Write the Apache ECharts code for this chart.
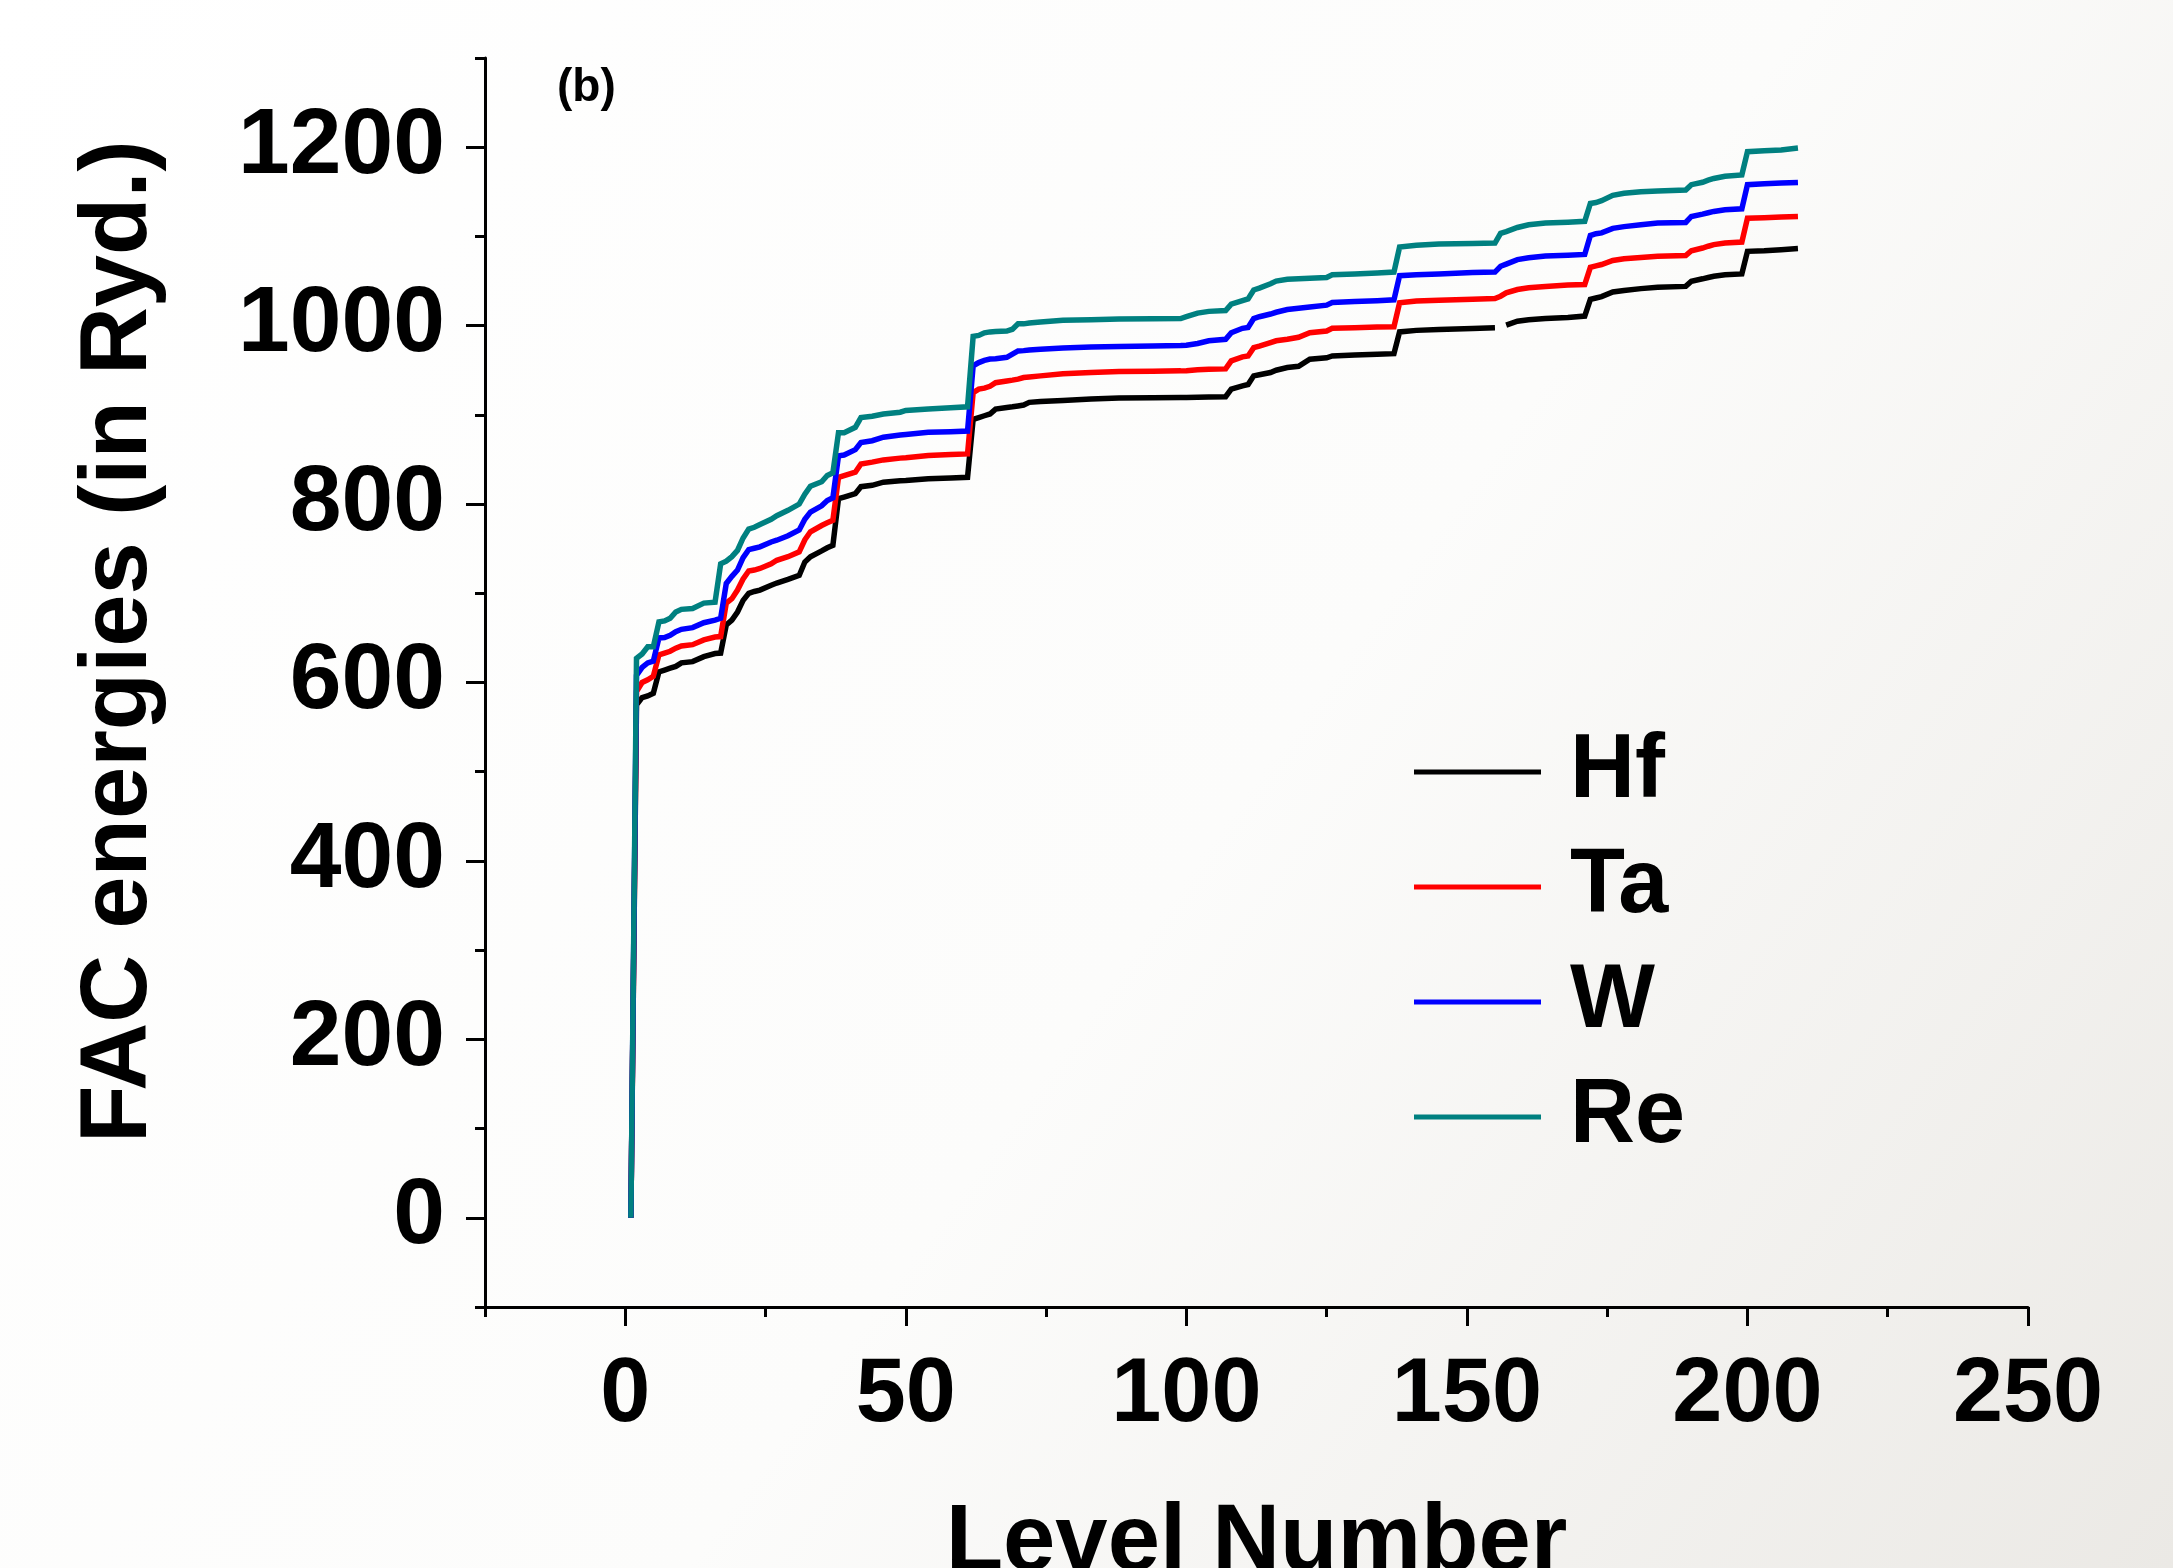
<!DOCTYPE html>
<html>
<head>
<meta charset="utf-8">
<script src="https://cdn.jsdelivr.net/npm/echarts@6/dist/echarts.min.js"></script>
<style>
  html, body { margin: 0; padding: 0; width: 2173px; height: 1568px; overflow: hidden; background: #ffffff; }
  #chart { width: 2173px; height: 1568px; }
</style>
</head>
<body>
<div id="chart"></div>
<script>
// ---- data ----
const levels = [1,2,3,4,5,6,7,8,9,10,12,14,16,17,18,19,20,21,22,23,24,26,27,29,31,32,33,35,36,37,38,39,41,42,44,46,49,50,54,58,61,62,63,64,65,66,68,69,70,71,72,74,78,83,88,94,99,100,102,104,107,108,110,111,112,113,115,116,118,120,122,125,126,130,134,137,138,141,145,151,155,156,157,159,161,164,168,171,172,173,174,176,178,181,184,189,190,192,193,194,196,199,200,203,206,209];

const hfEnergy = [0,575,583,585,588,612,614,616,618,622,
  623.4,629,632.5,633,664.5,670,679,692,700,702,
  703.6,709,711.5,715.5,720,735,741,747.5,751,753.8,
  806,807.8,811.6,819.5,821,824.5,826.2,826.4,828.3,829.3,
  830,895,897,899,901,906.5,908.3,909,910,911,
  914,915,916,917.7,918.8,919.3,919.5,919.5,919.8,920,
  920.3,928.8,932.5,934,943.7,945,947.5,950,953,954.5,
  962.4,964,966,967,968,968.6,993,994.7,995.8,996.8,
  997.6,null,1000.6,1005,1006.7,1008,1009.2,1010.7,1029.4,1031,
  1032.5,1037.8,1039.5,1041.5,1043,1044,1049.8,1052.5,1054,1055.4,
  1057,1058,1083.3,1084,1085.2,1086.4];

const taEnergy = [0,590,600,603,607,631,633,635,638.5,641,
  642.4,647.8,651,651.5,689,694,703.6,716,725,726,
  727.8,733,737,741,746.4,760,769,776,779,781.8,
  830,832,835.7,845,847,849.5,851.5,851.8,854.4,855.6,
  856.2,925,928.8,930,932,936,938,938.9,940,941.8,
  942.5,943.7,946,947.4,948.5,949,949.3,949.5,950.5,951,
  951.5,960.5,965,966,975.3,977,981,983,984.7,987,
  992,994,997,997.7,998.4,998.8,1025.6,1027.5,1028.5,1029.7,
  1030.5,1033,1036.8,1040.5,1042.5,1044,1045.5,1046,1065.4,1067,
  1068.5,1073,1075,1076.5,1077.7,1078.5,1084,1087,1089,1090.8,
  1092.6,1093.7,1120.5,1121,1121.7,1122.4];

const wEnergy = [0,608,617,622,624,650,650.5,653,657,659.6,
  661.5,667,670,672,711,719,726,740,749,750.5,
  752,757.5,759.5,764.5,771,783,791,798,804,807,
  854,855,861,869,871,875,877.5,878,880.5,881.2,
  881.8,955,958.6,961,962.5,963,964.5,968,971.6,972,
  972.8,973.6,975,976,976.7,977.2,977.7,978,980,983,
  984.7,992,997,998,1008,1010,1013,1015,1018,1019.5,
  1021,1023,1026,1027,1028,1029,1056,1057,1058,1059.5,
  1060,1066.5,1069,1074,1076,1078,1079,1079.8,1101,1103,
  1104,1109,1111,1113,1115,1115.7,1122.4,1125,1126.5,1128,
  1130,1131,1158,1159,1159.8,1160.5];

const reEnergy = [0,627,632,640,640,668,669,672,679,682,
  683,689,690,733,736,741,748,762,772,774,
  777,783,787,793,800,811,820,825,832,835,
  880,880,886,897,898.5,901,903,905,906.5,908,
  909,988,989,992,993,993.5,994,996,1002,1002,
  1003,1004,1006,1006.6,1007.4,1007.7,1008,1010,1014,1016,
  1017,1024,1028,1030,1040,1042,1047,1050,1052,1052.5,
  1053,1054,1057,1058,1059,1060,1088,1090,1091.5,1092,
  1092.6,1103.5,1105.5,1110,1113,1115,1116,1117,1137,1138,
  1140,1146,1148.4,1150,1151,1152,1158,1160.7,1163,1165,
  1167.5,1169,1195,1196,1197,1199];

const seriesNames = ['Hf', 'Ta', 'W', 'Re'];
const xMajorTicks = [0, 50, 100, 150, 200, 250];
const xMinorTicks = [-25, 25, 75, 125, 175, 225];
const yMajorTicks = [0, 200, 400, 600, 800, 1000, 1200];
const yMinorTicks = [-100, 100, 300, 500, 700, 900, 1100, 1300];

// ---- chart ----
const colors = ['#000000', '#ff0000', '#0000ff', '#008080'];
const allEnergy = [hfEnergy, taEnergy, wEnergy, reEnergy];
const FONT = '"Liberation Sans", Arial, sans-serif';

function pairs(arr) {
  return levels.map((l, i) => [l, arr[i] === null ? '-' : arr[i]]);
}
const plain = v => String(v);

const chart = echarts.init(document.getElementById('chart'), null, { renderer: 'canvas' });

const axisLine = { show: true, onZero: false, lineStyle: { color: '#000', width: 3 } };

chart.setOption({
  animation: false,
  backgroundColor: {
    type: 'linear', x: 0, y: 0, x2: 1, y2: 1,
    colorStops: [
      { offset: 0, color: '#ffffff' },
      { offset: 0.55, color: '#fcfcfb' },
      { offset: 1, color: '#ebe9e5' }
    ]
  },
  title: {
    text: '(b)',
    left: 552, top: 60,
    textStyle: { fontFamily: FONT, fontWeight: 'bold', fontSize: 46, color: '#000' }
  },
  grid: { left: 485, right: 145, top: 58, bottom: 261, containLabel: false, outerBoundsMode: 'none' },
  legend: {
    orient: 'vertical',
    left: 1414, top: 727,
    icon: 'rect',
    itemWidth: 127, itemHeight: 5,
    itemGap: 25,
    padding: 0,
    data: seriesNames,
    textStyle: { fontFamily: FONT, fontWeight: 'bold', fontSize: 90, lineHeight: 90, color: '#000', padding: [0, 0, 0, 24] }
  },
  xAxis: [
    {
      type: 'value', min: -25, max: 250, interval: 25,
      position: 'bottom',
      axisLine: axisLine,
      splitLine: { show: false },
      axisTick: { show: true, inside: false, length: 19, lineStyle: { width: 3, color: '#000' }, customValues: xMajorTicks },
      axisLabel: { show: true, margin: 44, customValues: xMajorTicks, formatter: plain, fontFamily: FONT, fontWeight: 'bold', fontSize: 90, color: '#000' },
      name: 'Level Number', nameLocation: 'middle', nameGap: 190,
      nameTextStyle: { fontFamily: FONT, fontWeight: 'bold', fontSize: 94, color: '#000' }
    },
    {
      type: 'value', min: -25, max: 250, interval: 25,
      position: 'bottom',
      axisLine: { show: false, onZero: false },
      splitLine: { show: false },
      axisTick: { show: true, inside: false, length: 10, lineStyle: { width: 3, color: '#000' }, customValues: xMinorTicks },
      axisLabel: { show: false }
    }
  ],
  yAxis: [
    {
      type: 'value', min: -100, max: 1300, interval: 100,
      position: 'left',
      axisLine: axisLine,
      splitLine: { show: false },
      axisTick: { show: true, inside: false, length: 19, lineStyle: { width: 3, color: '#000' }, customValues: yMajorTicks },
      axisLabel: { show: true, margin: 40, customValues: yMajorTicks, formatter: plain, fontFamily: FONT, fontWeight: 'bold', fontSize: 93, color: '#000' },
      name: 'FAC energies (in Ryd.)', nameLocation: 'middle', nameGap: 318, nameRotate: 90,
      nameTextStyle: { fontFamily: FONT, fontWeight: 'bold', fontSize: 94, color: '#000', padding: [0, 0, 0, 82] }
    },
    {
      type: 'value', min: -100, max: 1300, interval: 100,
      position: 'left',
      axisLine: { show: false, onZero: false },
      splitLine: { show: false },
      axisTick: { show: true, inside: false, length: 10, lineStyle: { width: 3, color: '#000' }, customValues: yMinorTicks },
      axisLabel: { show: false }
    }
  ],
  series: seriesNames.map((name, i) => ({
    name: name,
    type: 'line',
    xAxisIndex: 0, yAxisIndex: 0,
    data: pairs(allEnergy[i]),
    showSymbol: false,
    symbol: 'none',
    connectNulls: false,
    color: colors[i],
    lineStyle: { color: colors[i], width: 5.5, join: 'miter' },
    z: 2 + i
  }))
});
</script>
</body>
</html>
